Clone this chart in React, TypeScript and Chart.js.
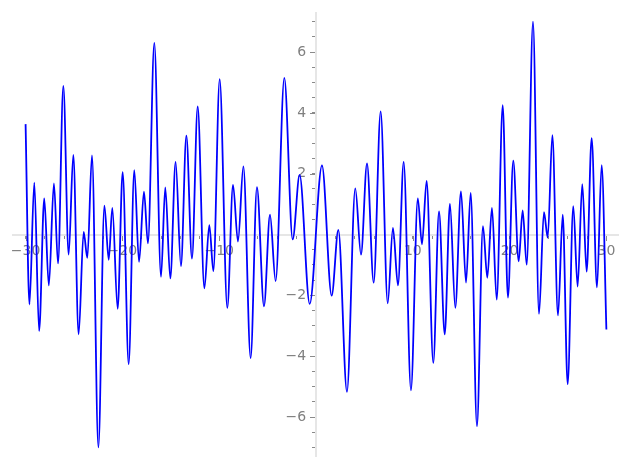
import { useEffect, useRef } from 'react';
import { Chart, registerables } from 'chart.js';

Chart.register(...registerables);

// Local extrema (and end points) of the plotted curve
const xValues = [
  -30, -29.6, -29.1, -28.6, -28.07, -27.6, -27.07, -26.65, -26.1, -25.55,
  -25.07, -24.52, -24.0, -23.62, -23.14, -22.48, -21.86, -21.41, -21.04, -20.49,
  -19.97, -19.35, -18.77, -18.28, -17.77, -17.36, -16.7, -16.01, -15.57, -15.05,
  -14.5, -13.95, -13.39, -12.81, -12.22, -11.53, -11.02, -10.6, -9.95, -9.16,
  -8.57, -8.06, -7.5, -6.75, -6.1, -5.37, -4.75, -4.17, -3.27, -2.41,
  -1.69, -0.65, 0.62, 1.62, 2.31, 3.2, 4.06, 4.65, 5.27, 5.96,
  6.68, 7.41, 7.95, 8.47, 9.06, 9.81, 10.52, 10.95, 11.43, 12.12,
  12.71, 13.3, 13.84, 14.39, 14.98, 15.5, 15.98, 16.63, 17.25, 17.7,
  18.18, 18.67, 19.29, 19.83, 20.38, 20.94, 21.35, 21.77, 22.42, 23.04,
  23.55, 23.94, 24.42, 25.0, 25.49, 26.0, 26.58, 27.03, 27.51, 27.96,
  28.48, 29.03, 29.51, 30,
];
const yValues = [
  3.63, -2.3, 1.71, -3.17, 1.19, -1.67, 1.68, -0.95, 4.89, -0.66,
  2.62, -3.28, 0.09, -0.77, 2.6, -7.0, 0.95, -0.83, 0.88, -2.44,
  2.05, -4.26, 2.12, -0.9, 1.41, -0.29, 6.3, -1.39, 1.55, -1.44,
  2.39, -1.04, 3.25, -0.79, 4.21, -1.77, 0.31, -1.2, 5.11, -2.41,
  1.63, -0.23, 2.24, -4.06, 1.56, -2.36, 0.65, -1.53, 5.15, -0.16,
  1.96, -2.28, 2.27, -2.01, 0.15, -5.17, 1.52, -0.66, 2.34, -1.58,
  4.05, -2.26, 0.22, -1.67, 2.39, -5.12, 1.19, -0.32, 1.76, -4.22,
  0.76, -3.28, 1.01, -2.41, 1.42, -1.58, 1.37, -6.3, 0.28, -1.42,
  0.88, -2.14, 4.25, -2.07, 2.43, -0.88, 0.79, -0.99, 7.0, -2.61,
  0.74, -0.1, 3.27, -2.66, 0.65, -4.92, 0.93, -1.71, 1.66, -1.22,
  3.17, -1.74, 2.28, -3.12,
];

const xTickValues = [
  -30, -28, -26, -24, -22, -20, -18, -16, -14, -12, -10, -8, -6, -4, -2, 0,
  2, 4, 6, 8, 10, 12, 14, 16, 18, 20, 22, 24, 26, 28, 30,
];
const xLabelValues = [-30, -20, -10, 10, 20, 30];
const yTickValues = [
  -7, -6.5, -6, -5.5, -5, -4.5, -4, -3.5, -3, -2.5, -2, -1.5, -1, -0.5, 0,
  0.5, 1, 1.5, 2, 2.5, 3, 3.5, 4, 4.5, 5, 5.5, 6, 6.5, 7,
];
const yLabelValues = [-6, -4, -2, 2, 4, 6];

const fmt = (v: number) => (v < 0 ? '\u2212' + Math.abs(v) : String(v));

const majorTickPlugin = {
  id: 'majorTicks',
  beforeDatasetsDraw(chart: any) {
    const { ctx } = chart;
    const xs = chart.scales.x;
    const ys = chart.scales.y;
    const y0 = Math.round(ys.getPixelForValue(0));
    const x0 = Math.round(xs.getPixelForValue(0));
    ctx.save();
    ctx.strokeStyle = '#8a8a8a';
    ctx.lineWidth = 1;
    ctx.beginPath();
    for (const v of xLabelValues) {
      const px = Math.round(xs.getPixelForValue(v)) + 0.5;
      ctx.moveTo(px, y0 + 1);
      ctx.lineTo(px, y0 + 6);
    }
    for (const v of yLabelValues) {
      const py = Math.round(ys.getPixelForValue(v)) + 0.5;
      ctx.moveTo(x0 - 1, py);
      ctx.lineTo(x0 - 6, py);
    }
    ctx.stroke();
    ctx.restore();
  },
};

export default function App() {
  const ref = useRef<HTMLCanvasElement | null>(null);

  useEffect(() => {
    if (!ref.current) return;
    const points = xValues.map((x, i) => ({ x, y: yValues[i] }));
    const chart = new Chart(ref.current, {
      type: 'line',
      data: {
        datasets: [
          {
            data: points,
            borderColor: '#0000ff',
            borderWidth: 1.8,
            pointRadius: 0,
            fill: false,
            cubicInterpolationMode: 'monotone',
          },
        ],
      },
      options: {
        animation: false,
        responsive: true,
        maintainAspectRatio: false,
        layout: { padding: { left: 13, right: 9, top: 10, bottom: 10 } },
        plugins: { legend: { display: false }, tooltip: { enabled: false } },
        scales: {
          x: {
            type: 'linear',
            min: -31.3,
            max: 31.2,
            position: { y: 0 },
            afterBuildTicks: (scale: any) => {
              scale.ticks = xTickValues.map((value) => ({ value }));
            },
            grid: {
              display: true,
              drawOnChartArea: false,
              drawTicks: true,
              tickLength: 3,
              tickColor: '#8a8a8a',
            },
            border: { display: true, color: '#e6e6e6', width: 2 },
            ticks: {
              autoSkip: false,
              maxRotation: 0,
              padding: 5,
              color: '#808080',
              font: { family: 'DejaVu Sans', size: 14 },
              callback: (v: any) => (xLabelValues.includes(Number(v)) ? fmt(Number(v)) : ''),
            },
          },
          y: {
            type: 'linear',
            min: -7.3,
            max: 7.27,
            position: { x: 0 },
            afterBuildTicks: (scale: any) => {
              scale.ticks = yTickValues.map((value) => ({ value }));
            },
            grid: {
              display: true,
              drawOnChartArea: false,
              drawTicks: true,
              tickLength: 3,
              tickColor: '#8a8a8a',
            },
            border: { display: true, color: '#e6e6e6', width: 2 },
            ticks: {
              autoSkip: false,
              padding: 5,
              color: '#808080',
              font: { family: 'DejaVu Sans', size: 14 },
              callback: (v: any) =>
                yLabelValues.includes(Number(v)) ? fmt(Number(v)) + '\u2002\u2009' : '',
            },
          },
        },
      },
      plugins: [majorTickPlugin],
    });
    return () => chart.destroy();
  }, []);

  return (
    <div style={{ position: 'fixed', left: 0, top: 0, width: 627, height: 470 }}>
      <canvas ref={ref} />
    </div>
  );
}
